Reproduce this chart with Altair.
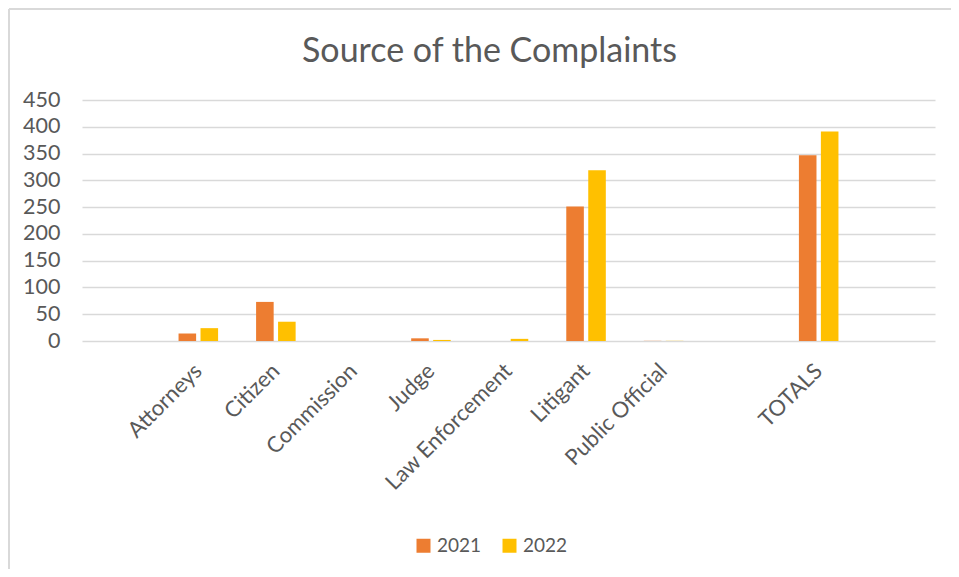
import altair as alt
import pandas as pd

categories = ["Attorneys", "Citizen", "Commission", "Judge", "Law Enforcement",
              "Litigant", "Public Official", "TOTALS"]
values_2021 = [14, 73, 0, 5, 0, 251, 1, 347]
values_2022 = [24, 36, 0, 2, 4, 319, 1, 391]
years = ["2021", "2022"]
axis_slots = ["gap_a", "Attorneys", "Citizen", "Commission", "Judge", "Law Enforcement",
              "Litigant", "Public Official", "gap_b", "TOTALS", "gap_c"]
y_ticks = [0, 50, 100, 150, 200, 250, 300, 350, 400, 450]
colors = ["#ED7D31", "#FFC000"]

rows = []
for c, a, b in zip(categories, values_2021, values_2022):
    rows.append({"category": c, "year": years[0], "value": a})
    rows.append({"category": c, "year": years[1], "value": b})
df = pd.DataFrame(rows)

FONT = "Lato"
TXT = "#595959"

bars = alt.Chart(df).mark_bar().encode(
    x=alt.X("category:N",
            scale=alt.Scale(domain=axis_slots, paddingInner=0.49, paddingOuter=0.245),
            sort=axis_slots,
            axis=alt.Axis(title=None, labelAngle=-45, labelAlign="right", labelBaseline="middle",
                          labelExpr="indexof(datum.label, 'gap_') == 0 ? '' : datum.label",
                          ticks=False, domain=False, labelPadding=26, labelFont=FONT,
                          labelFontSize=22, labelColor=TXT, grid=False)),
    xOffset=alt.XOffset("year:N", scale=alt.Scale(domain=years, paddingInner=0.2)),
    y=alt.Y("value:Q", scale=alt.Scale(domain=[0, 450]),
            axis=alt.Axis(values=y_ticks, title=None, ticks=False, domain=False,
                          gridColor="#d9d9d9", gridWidth=1.5, labelPadding=22, labelFont=FONT,
                          labelFontSize=21.5, labelColor=TXT)),
    color=alt.Color("year:N", scale=alt.Scale(domain=years, range=colors),
                    legend=alt.Legend(title=None, orient="none", legendX=332, legendY=436,
                                      direction="horizontal", symbolType="square",
                                      symbolSize=196, symbolStrokeWidth=0, labelFont=FONT,
                                      labelFontSize=19, labelColor=TXT, labelOffset=4,
                                      columnPadding=18, padding=0)),
    opacity=alt.condition("datum.category == 'Public Official'", alt.value(0.3), alt.value(1)),
)

edge = pd.DataFrame({"a": [0]})
border_left = alt.Chart(edge).mark_rule(color="#d9d9d9", strokeWidth=2).encode(
    x=alt.value(-73), y=alt.value(-91), y2=alt.value(700))
border_top = alt.Chart(edge).mark_rule(color="#d9d9d9", strokeWidth=2).encode(
    x=alt.value(-73), x2=alt.value(1000), y=alt.value(-91))

chart = alt.layer(border_left, border_top, bars).properties(
    width=853, height=241,
    padding={"left": 74, "top": 92, "right": 16, "bottom": 228},
    autosize=alt.AutoSizeParams(type="none"),
    title=alt.TitleParams("Source of the Complaints", fontSize=34, font=FONT,
                          fontWeight="normal", color=TXT, anchor="middle", frame="group",
                          dx=-19, offset=-61),
).configure_view(stroke=None)

chart.save("out.html", embed_options={"renderer": "svg", "actions": False})
